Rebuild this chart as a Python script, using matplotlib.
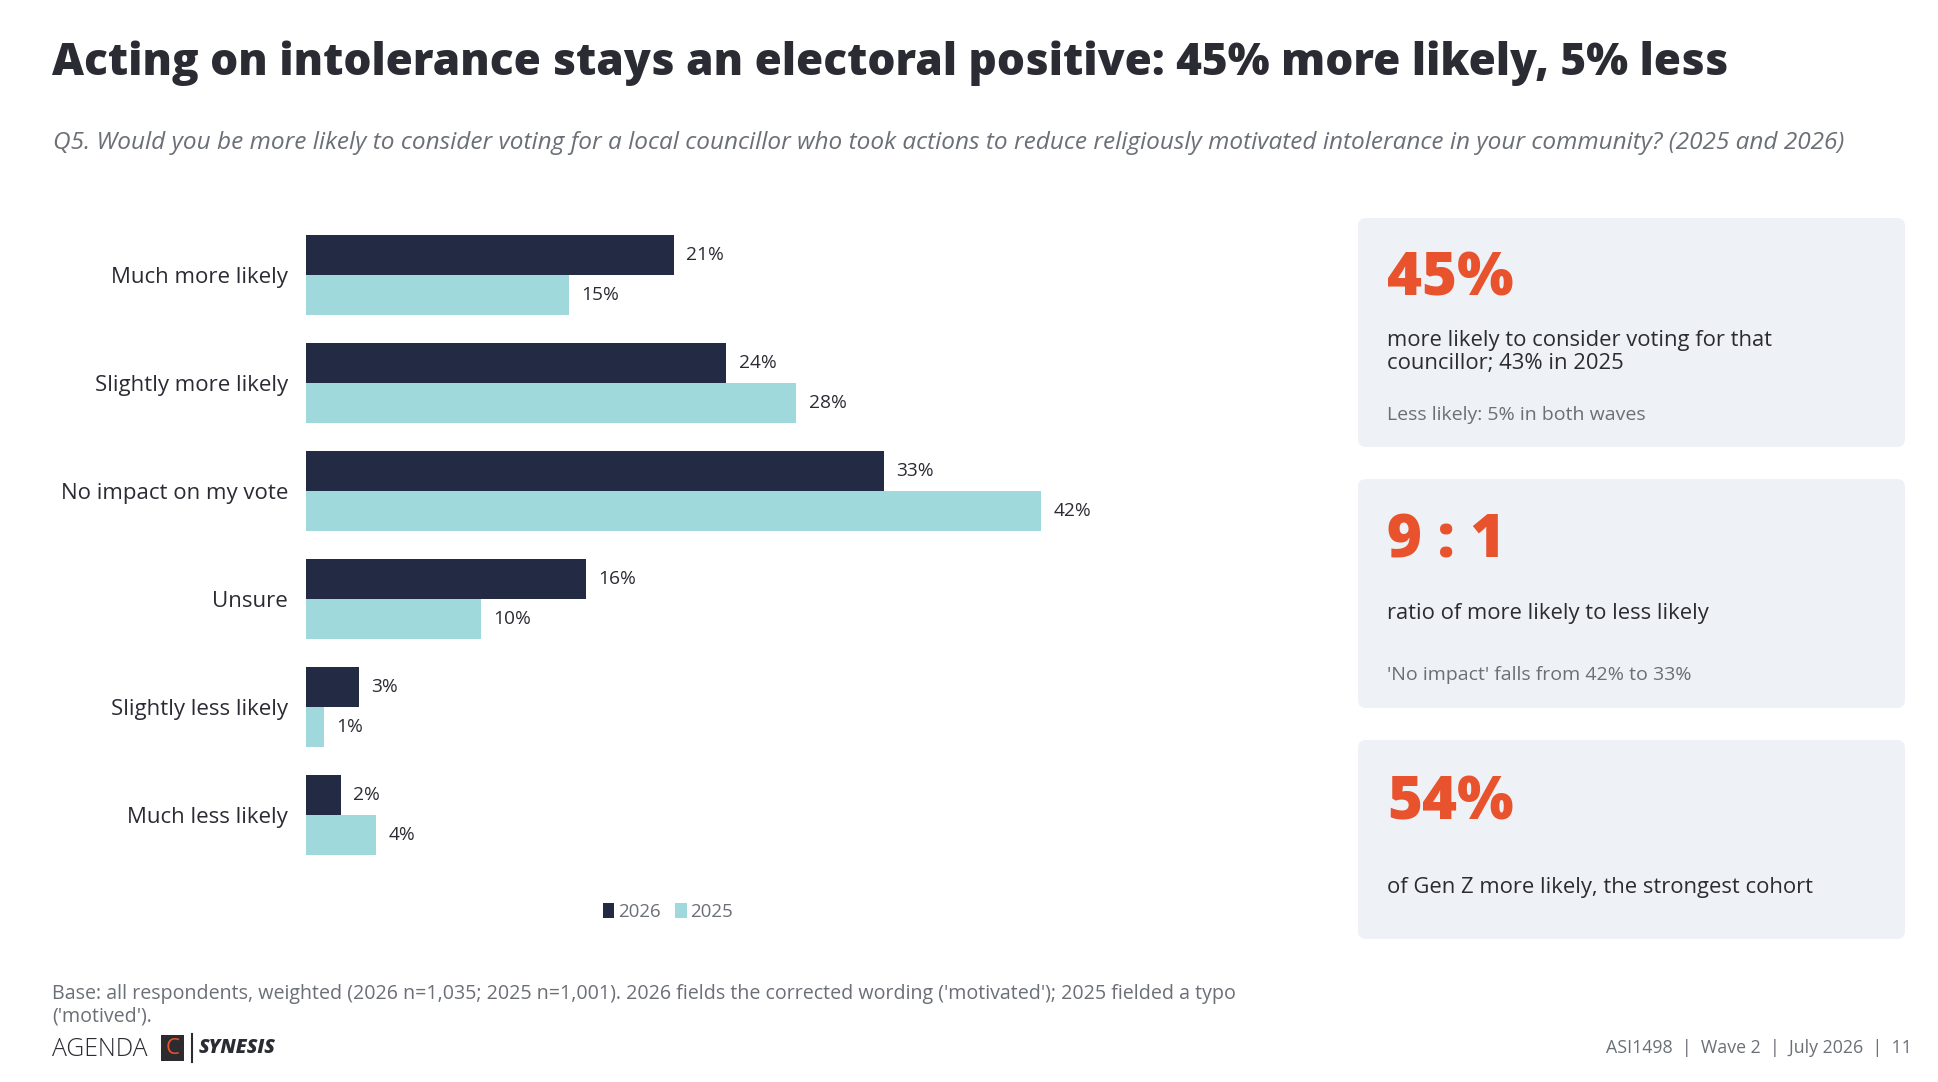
import numpy as np
import matplotlib.pyplot as plt
from matplotlib.patches import FancyBboxPatch, Rectangle

plt.rcParams['font.family'] = ['Open Sans', 'DejaVu Sans']

categories = ["Much more likely", "Slightly more likely", "No impact on my vote",
              "Unsure", "Slightly less likely", "Much less likely"]
vals_2026 = [21, 24, 33, 16, 3, 2]
vals_2025 = [15, 28, 42, 10, 1, 4]
series_names = ["2026", "2025"]

card_big = ["45%", "9 : 1", "54%"]
card_text = ["more likely to consider voting for that\ncouncillor; 43% in 2025",
             "ratio of more likely to less likely",
             "of Gen Z more likely, the strongest cohort"]
card_note = ["Less likely: 5% in both waves", "'No impact' falls from 42% to 33%", ""]

NAVY = "#222a44"
TEAL = "#9fd9dc"
ORANGE = "#e8532e"
DARK = "#2b2b33"
GREY = "#6b6f76"
CARD = "#eef1f5"

W, H = 1938, 1082
fig = plt.figure(figsize=(W / 100, H / 100), dpi=100)

# overlay in pixel coords for text and cards
ov = fig.add_axes([0, 0, 1, 1])
ov.set_xlim(0, W)
ov.set_ylim(H, 0)
ov.axis("off")

ov.text(52, 75, "Acting on intolerance stays an electoral positive: 45% more likely, 5% less",
        fontsize=31.8, fontweight=800, color=DARK, va="baseline", ha="left")
ov.text(53, 149, "Q5. Would you be more likely to consider voting for a local councillor who took actions "
        "to reduce religiously motivated intolerance in your community? (2025 and 2026)",
        fontsize=17.6, style="italic", color=GREY, va="baseline", ha="left")

# bar chart
left, right, top, bottom = 306, 1100, 221, 869
ax = fig.add_axes([left / W, 1 - bottom / H, (right - left) / W, (bottom - top) / H])
y = np.arange(len(categories))
h = 0.37
b1 = ax.barh(y - h / 2, vals_2026, height=h, color=NAVY, label=series_names[0])
b2 = ax.barh(y + h / 2, vals_2025, height=h, color=TEAL, label=series_names[1])
for bars, vals in ((b1, vals_2026), (b2, vals_2025)):
    for bar, v in zip(bars, vals):
        ax.annotate(f"{v}%", (bar.get_width(), bar.get_y() + bar.get_height() / 2),
                    xytext=(9, 0), textcoords="offset points", va="center", ha="left",
                    fontsize=13.8, color=DARK)
ax.set_xlim(0, (right - left) / 17.5)
ax.set_ylim(len(categories) - 0.5, -0.5)
ax.set_yticks(y)
ax.set_yticklabels(categories, fontsize=16, color=DARK)
ax.tick_params(axis="y", length=0, pad=13)
ax.set_xticks([])
for s in ax.spines.values():
    s.set_visible(False)
ax.patch.set_alpha(0)

leg = fig.legend(handles=[b1, b2], labels=series_names, loc="center",
                 bbox_to_anchor=(668 / W, 1 - 912 / H), ncol=2, frameon=False,
                 fontsize=13.5, handlelength=0.6, handleheight=0.9, handletextpad=0.2,
                 columnspacing=0.8)
for t in leg.get_texts():
    t.set_color(GREY)

# cards
cards_y = [(218, 447), (479, 708), (740, 939)]
big_y = [279, 541, 804]
text_y = [352, 614, 888]
note_y = [415, 675, None]
for i, (ct, cb) in enumerate(cards_y):
    ov.add_patch(FancyBboxPatch((1358, ct), 547, cb - ct,
                                boxstyle="round,pad=0,rounding_size=8",
                                facecolor=CARD, edgecolor="none"))
    ov.text(1387, big_y[i], card_big[i], fontsize=43, fontweight=800, color=ORANGE,
            va="center", ha="left")
    ov.text(1387, text_y[i], card_text[i], fontsize=15.8, color=DARK, va="center", ha="left",
            linespacing=1.15)
    if note_y[i] is not None:
        ov.text(1387, note_y[i], card_note[i], fontsize=14, color=GREY, va="center", ha="left")

# footer
ov.text(52, 1005, "Base: all respondents, weighted (2026 n=1,035; 2025 n=1,001). 2026 fields the corrected "
        "wording ('motivated'); 2025 fielded a typo\n('motived').",
        fontsize=14.1, color=GREY, va="center", ha="left", linespacing=1.15)
ov.text(52, 1049, "AGENDA", fontsize=17.8, fontweight="light", color=DARK, va="center", ha="left")
ov.add_patch(Rectangle((161, 1035), 23, 26, facecolor="#2c2c30", edgecolor="none"))
ov.text(172.5, 1048, "C", fontsize=16, color=ORANGE, va="center", ha="center")
ov.plot([192, 192], [1034, 1062], color=DARK, lw=1.5)
ov.text(199, 1048, "SYNESIS", fontsize=14, fontweight=800, style="italic", color=DARK,
        va="center", ha="left")
ov.text(1912, 1048, "ASI1498  |  Wave 2  |  July 2026  |  11", fontsize=12.8, color=GREY,
        va="center", ha="right")

fig.savefig("out.png", dpi=100, facecolor="white")
